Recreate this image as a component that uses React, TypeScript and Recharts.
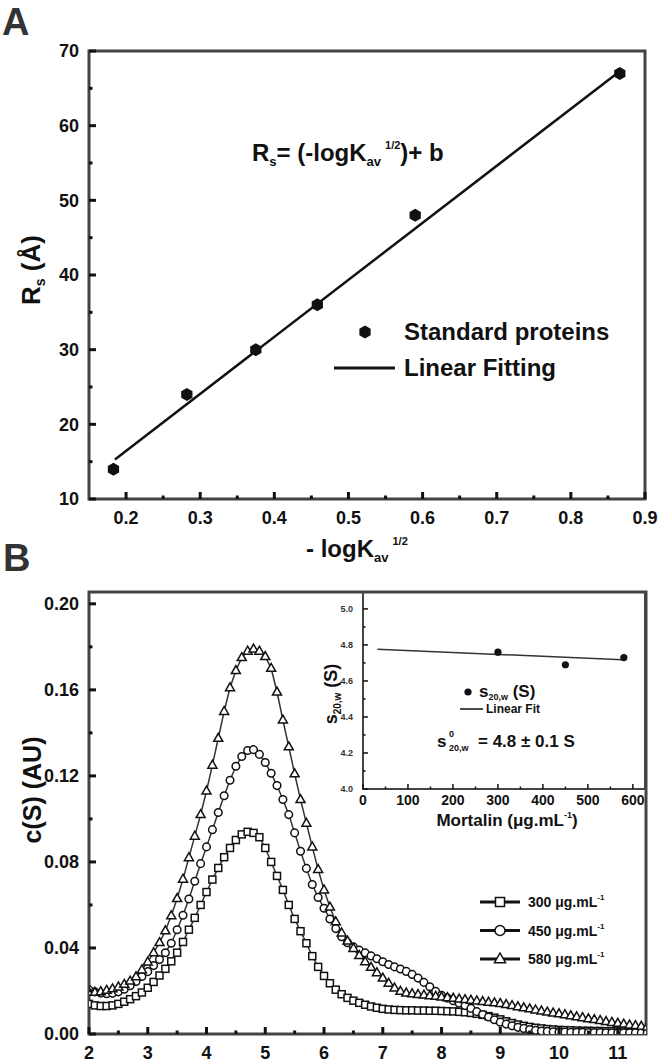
import React from 'react';
import { ComposedChart, Line, Scatter, XAxis, YAxis, ReferenceArea, Legend } from 'recharts';

// ---- Panel A: gel filtration calibration ----
const kavRoot = [0.183, 0.282, 0.375, 0.458, 0.59, 0.866];
const stokesRadius = [14, 24, 30, 36, 48, 67];
const fitKav = [0.185, 0.866];
const fitRadius = [15.3, 67.3];
const aTicksX = [0.2, 0.25, 0.3, 0.35, 0.4, 0.45, 0.5, 0.55, 0.6, 0.65, 0.7, 0.75, 0.8, 0.85, 0.9];
const aTicksY = [10, 15, 20, 25, 30, 35, 40, 45, 50, 55, 60, 65, 70];

// ---- Panel B: c(S) distributions ----
const sedCoef = [
  2.0, 2.1, 2.2, 2.3, 2.4, 2.5, 2.6, 2.7, 2.8, 2.9, 3.0, 3.1, 3.2, 3.3, 3.4, 3.5, 3.6, 3.7, 3.8, 3.9,
  4.0, 4.1, 4.2, 4.3, 4.4, 4.5, 4.6, 4.7, 4.8, 4.9, 5.0, 5.1, 5.2, 5.3, 5.4, 5.5, 5.6, 5.7, 5.8, 5.9,
  6.0, 6.1, 6.2, 6.3, 6.4, 6.5, 6.6, 6.7, 6.8, 6.9, 7.0, 7.1, 7.2, 7.3, 7.4, 7.5, 7.6, 7.7, 7.8, 7.9,
  8.0, 8.1, 8.2, 8.3, 8.4, 8.5, 8.6, 8.7, 8.8, 8.9, 9.0, 9.1, 9.2, 9.3, 9.4, 9.5, 9.6, 9.7, 9.8, 9.9,
  10.0, 10.1, 10.2, 10.3, 10.4, 10.5, 10.6, 10.7, 10.8, 10.9, 11.0, 11.1, 11.2, 11.3, 11.4, 11.5,
];
const c300 = [
  0.014, 0.0133, 0.013, 0.013, 0.0133, 0.014, 0.015, 0.0162, 0.0176, 0.0193, 0.0215, 0.0242, 0.0272, 0.0303, 0.0338, 0.0378, 0.0428, 0.0485, 0.054, 0.06,
  0.066, 0.0718, 0.0772, 0.0822, 0.0865, 0.0902, 0.0928, 0.094, 0.0935, 0.0915, 0.0865, 0.08, 0.0735, 0.067, 0.06, 0.0535, 0.0478, 0.0422, 0.0362, 0.0312,
  0.027, 0.0236, 0.0206, 0.0185, 0.0168, 0.0155, 0.0145, 0.0136, 0.0128, 0.0122, 0.0117, 0.0114, 0.0112, 0.0111, 0.011, 0.011, 0.0109, 0.0109, 0.0108, 0.0108,
  0.0107, 0.0106, 0.0105, 0.0103, 0.0101, 0.0098, 0.0094, 0.0089, 0.0083, 0.0076, 0.0068, 0.0059, 0.0051, 0.0044, 0.0038, 0.0033, 0.0029, 0.0026, 0.0023, 0.0021,
  0.0019, 0.0018, 0.0017, 0.0016, 0.0015, 0.0015, 0.0014, 0.0014, 0.0013, 0.0013, 0.0012, 0.0012, 0.0011, 0.0011, 0.001, 0.001,
];
const c450 = [
  0.0205, 0.0196, 0.019, 0.0187, 0.0189, 0.0196, 0.0208, 0.0224, 0.0244, 0.0267, 0.029, 0.0318, 0.0346, 0.0378, 0.0422, 0.0485, 0.0552, 0.0628, 0.071, 0.0792,
  0.087, 0.095, 0.103, 0.1108, 0.118, 0.1245, 0.129, 0.1318, 0.1322, 0.13, 0.1262, 0.1212, 0.1155, 0.109, 0.102, 0.0935, 0.085, 0.077, 0.0695, 0.0635,
  0.0585, 0.0535, 0.049, 0.0452, 0.0424, 0.0405, 0.039, 0.0377, 0.0363, 0.035, 0.0336, 0.0323, 0.0312, 0.0302, 0.0291, 0.0277, 0.026, 0.024, 0.022, 0.0198,
  0.018, 0.0167, 0.0155, 0.0143, 0.0132, 0.0119, 0.0104, 0.0091, 0.0079, 0.0066, 0.0055, 0.0046, 0.0038, 0.0031, 0.0026, 0.0021, 0.0017, 0.0014, 0.0012, 0.001,
  0.0009, 0.0009, 0.0008, 0.0008, 0.0008, 0.0007, 0.0007, 0.0007, 0.0006, 0.0006, 0.0006, 0.0006, 0.0005, 0.0005, 0.0005, 0.0005,
];
const c580 = [
  0.0195, 0.0194, 0.0197, 0.0203, 0.021, 0.0219, 0.0231, 0.0246, 0.0266, 0.0298, 0.0335, 0.0378, 0.0425, 0.048, 0.055, 0.063, 0.072, 0.082, 0.092, 0.102,
  0.113, 0.125, 0.1375, 0.15, 0.161, 0.169, 0.175, 0.178, 0.179, 0.178, 0.1755, 0.17, 0.159, 0.146, 0.1335, 0.121, 0.109, 0.098, 0.087, 0.0765,
  0.067, 0.059, 0.0522, 0.047, 0.0432, 0.0398, 0.0365, 0.0336, 0.031, 0.0285, 0.026, 0.0236, 0.0214, 0.0199, 0.0191, 0.0187, 0.0184, 0.0181, 0.0178, 0.0175,
  0.0172, 0.0169, 0.0166, 0.0163, 0.016, 0.0157, 0.0154, 0.0151, 0.0148, 0.0145, 0.0142, 0.0137, 0.0132, 0.0127, 0.0122, 0.0117, 0.0112, 0.0107, 0.0102, 0.0098,
  0.0094, 0.009, 0.0085, 0.008, 0.0076, 0.0071, 0.0067, 0.0063, 0.0058, 0.0054, 0.005, 0.0046, 0.0042, 0.0039, 0.0036, 0.0033,
];
const bTicksX = [2, 2.5, 3, 3.5, 4, 4.5, 5, 5.5, 6, 6.5, 7, 7.5, 8, 8.5, 9, 9.5, 10, 10.5, 11];
const bTicksY = [0, 0.02, 0.04, 0.06, 0.08, 0.1, 0.12, 0.14, 0.16, 0.18, 0.2];
const concLabels = ['300', '450', '580'];

// ---- Inset: s20,w vs concentration ----
const mortalin = [300, 450, 580];
const s20w = [4.76, 4.69, 4.73];
const insetFitX = [32, 577];
const insetFitY = [4.776, 4.718];
const insetTicksX = [0, 50, 100, 150, 200, 250, 300, 350, 400, 450, 500, 550, 600];
const insetTicksY = [4.0, 4.1, 4.2, 4.3, 4.4, 4.5, 4.6, 4.7, 4.8, 4.9, 5.0];

const FONT = '"Liberation Sans", Arial, Helvetica, sans-serif';
const INK = '#111';
const FRAME = '#444';

type TickCfg = {
  side: 'x' | 'y';
  major: (v: number) => boolean;
  label: (v: number) => string;
  size: number;
  gap: number;
  long: number;
  short: number;
  lineWidth?: number;
  fill?: string;
};

// inward tick marks + labels, placed by the axis scale
const makeTick = (c: TickCfg) => (props: any) => {
  const { x, y, payload } = props;
  const v = payload.value as number;
  const big = c.major(v);
  const len = big ? c.long : c.short;
  const sw = c.lineWidth ?? 3;
  const txt = {
    fontSize: c.size,
    fontWeight: 700,
    fontFamily: FONT,
    fill: c.fill ?? INK,
  };
  if (c.side === 'x') {
    return (
      <g>
        <line x1={x} x2={x} y1={y} y2={y - len} stroke={INK} strokeWidth={sw} />
        {big && (
          <text x={x} y={y + c.gap} textAnchor="middle" {...txt}>
            {c.label(v)}
          </text>
        )}
      </g>
    );
  }
  return (
    <g>
      <line x1={x} x2={x + len} y1={y} y2={y} stroke={INK} strokeWidth={sw} />
      {big && (
        <text x={x - c.gap} y={y} dy="0.35em" textAnchor="end" {...txt}>
          {c.label(v)}
        </text>
      )}
    </g>
  );
};

const near = (v: number, step: number) => Math.abs(v / step - Math.round(v / step)) < 1e-6;

const tickAX = makeTick({ side: 'x', major: (v) => near(v, 0.1), label: (v) => v.toFixed(1), size: 18, gap: 25, long: 7, short: 3.5 });
const tickAY = makeTick({ side: 'y', major: (v) => near(v, 10), label: (v) => String(v), size: 18, gap: 10, long: 7, short: 3.5 });
const tickBX = makeTick({ side: 'x', major: (v) => near(v, 1), label: (v) => String(v), size: 18, gap: 25, long: 7, short: 3.5 });
const tickBY = makeTick({ side: 'y', major: (v) => near(v, 0.04), label: (v) => v.toFixed(2), size: 18, gap: 10, long: 7, short: 3.5 });
const tickInX = makeTick({ side: 'x', major: (v) => near(v, 100), label: (v) => String(v), size: 14, gap: 16, long: 5, short: 2.5, lineWidth: 1.5 });
const tickInY = makeTick({ side: 'y', major: (v) => near(v, 0.2), label: (v) => v.toFixed(1), size: 9, gap: 10, long: 5, short: 2.5, lineWidth: 1.5, fill: '#333' });

const hexPoints = (cx: number, cy: number, r: number) =>
  [0, 1, 2, 3, 4, 5]
    .map((k) => {
      const a = ((-90 + 60 * k) * Math.PI) / 180;
      return `${cx + r * Math.cos(a)},${cy + r * Math.sin(a)}`;
    })
    .join(' ');

const HexShape = (p: any) => <polygon points={hexPoints(p.cx, p.cy, 6.5)} fill={INK} />;
const InsetDot = (p: any) => <circle cx={p.cx} cy={p.cy} r={3.6} fill={INK} />;

const drawSquare = (cx: number, cy: number, s: number, key?: string) => (
  <rect key={key} x={cx - s / 2} y={cy - s / 2} width={s} height={s} fill="#fff" stroke={INK} strokeWidth={1.5} />
);
const drawCircle = (cx: number, cy: number, r: number, key?: string) => (
  <circle key={key} cx={cx} cy={cy} r={r} fill="#fff" stroke={INK} strokeWidth={1.5} />
);
const drawTriangle = (cx: number, cy: number, w: number, key?: string) => {
  const h = w * 0.88;
  return (
    <polygon
      key={key}
      points={`${cx},${cy - h * 0.62} ${cx + w / 2},${cy + h * 0.38} ${cx - w / 2},${cy + h * 0.38}`}
      fill="#fff"
      stroke={INK}
      strokeWidth={1.5}
    />
  );
};

const squareDot = (p: any) => drawSquare(p.cx, p.cy, 7, `sq${p.index}`);
const circleDot = (p: any) => drawCircle(p.cx, p.cy, 3.8, `ci${p.index}`);
const triangleDot = (p: any) => drawTriangle(p.cx, p.cy, 9, `tr${p.index}`);

const labelText = { fontFamily: FONT, fontWeight: 700, fill: INK } as const;

const LegendA = () => (
  <svg width={660} height={560} style={{ display: 'block', overflow: 'visible' }}>
    <polygon points={hexPoints(365, 332, 6.5)} fill={INK} />
    <text x={404} y={340} fontSize={24} {...labelText}>Standard proteins</text>
    <line x1={334} x2={395} y1={368} y2={368} stroke={INK} strokeWidth={3} />
    <text x={404} y={376} fontSize={24} {...labelText}>Linear Fitting</text>
  </svg>
);

const legendMarks = [drawSquare, drawCircle, drawTriangle];
const legendSizes = [9, 5, 11];
const LegendB = () => (
  <svg width={660} height={522} style={{ display: 'block', overflow: 'visible' }}>
    {concLabels.map((c, i) => {
      const y = 362 + i * 28.5;
      return (
        <g key={c}>
          <line x1={480} x2={520} y1={y} y2={y} stroke={INK} strokeWidth={3} />
          {legendMarks[i](500, y, legendSizes[i])}
          <text x={528} y={y + 5} fontSize={14} {...labelText}>
            {c} μg.mL<tspan fontSize={8} dy={-7}>-1</tspan>
          </text>
        </g>
      );
    })}
  </svg>
);

const LegendInset = () => (
  <svg width={660} height={522} style={{ display: 'block', overflow: 'visible' }}>
    <circle cx={468} cy={152} r={3.6} fill={INK} />
    <text x={479} y={157} fontSize={17} {...labelText}>
      s<tspan fontSize={9} dy={3}>20,w</tspan>
      <tspan dy={-3}> (S)</tspan>
    </text>
    <line x1={460} x2={483} y1={169} y2={169} stroke={INK} strokeWidth={1.5} />
    <text x={486} y={173} fontSize={12} {...labelText}>Linear Fit</text>
  </svg>
);

const noOffsetLegend = { layout: 'vertical', verticalAlign: 'middle', align: 'center' } as const;

export default function App() {
  const pointsA = kavRoot.map((x, i) => ({ x, y: stokesRadius[i] }));
  const fitA = fitKav.map((x, i) => ({ x, y: fitRadius[i] }));
  const rowsB = sedCoef.map((s, i) => ({ s, c300: c300[i], c450: c450[i], c580: c580[i] }));
  const pointsIn = mortalin.map((x, i) => ({ x, y: s20w[i] }));
  const fitIn = insetFitX.map((x, i) => ({ x, y: insetFitY[i] }));

  return (
    <div style={{ position: 'absolute', left: 0, top: 0, width: 660, height: 1062, background: '#fff', overflow: 'hidden', fontFamily: FONT }}>
      {/* Panel A */}
      <div style={{ position: 'absolute', left: 0, top: 0 }}>
        <ComposedChart width={660} height={560} margin={{ top: 51, right: 15, bottom: 60, left: 88 }}>
          <XAxis type="number" dataKey="x" domain={[0.15, 0.9]} allowDataOverflow ticks={aTicksX} interval={0}
            axisLine={false} tickLine={false} tickSize={0} tickMargin={0} height={1} tick={tickAX} />
          <YAxis type="number" dataKey="y" domain={[10, 70]} allowDataOverflow ticks={aTicksY} interval={0}
            axisLine={false} tickLine={false} tickSize={0} tickMargin={0} width={1} tick={tickAY} />
          <ReferenceArea x1={0.15} x2={0.9} y1={10} y2={70} fill="none" fillOpacity={0} stroke={FRAME} strokeWidth={3} ifOverflow="visible" />
          <Line data={fitA} dataKey="y" type="linear" stroke={INK} strokeWidth={2.5} dot={false} isAnimationActive={false} name="Linear Fitting" />
          <Scatter data={pointsA} dataKey="y" shape={HexShape} isAnimationActive={false} name="Standard proteins" />
          <Legend {...noOffsetLegend} content={LegendA} wrapperStyle={{ left: 0, top: 0, width: 660, height: 560, pointerEvents: 'none' }} />
        </ComposedChart>
      </div>

      {/* Panel B main */}
      <div style={{ position: 'absolute', left: 0, top: 540 }}>
        <ComposedChart width={660} height={522} data={rowsB} margin={{ top: 52, right: 14, bottom: 27, left: 88 }}>
          <XAxis type="number" dataKey="s" domain={[2, 11.48]} allowDataOverflow ticks={bTicksX} interval={0}
            axisLine={false} tickLine={false} tickSize={0} tickMargin={0} height={1} tick={tickBX} />
          <YAxis type="number" domain={[0, 0.2055]} allowDataOverflow ticks={bTicksY} interval={0}
            axisLine={false} tickLine={false} tickSize={0} tickMargin={0} width={1} tick={tickBY} />
          <ReferenceArea x1={2} x2={11.48} y1={0} y2={0.2055} fill="none" fillOpacity={0} stroke={FRAME} strokeWidth={3} ifOverflow="visible" />
          <Line dataKey="c300" type="linear" stroke="#333" strokeWidth={1.5} dot={squareDot} isAnimationActive={false} />
          <Line dataKey="c450" type="linear" stroke="#333" strokeWidth={1.5} dot={circleDot} isAnimationActive={false} />
          <Line dataKey="c580" type="linear" stroke="#333" strokeWidth={1.5} dot={triangleDot} isAnimationActive={false} />
          <Legend {...noOffsetLegend} content={LegendB} wrapperStyle={{ left: 0, top: 0, width: 660, height: 522, pointerEvents: 'none' }} />
        </ComposedChart>
      </div>

      {/* Panel B inset */}
      <div style={{ position: 'absolute', left: 0, top: 540 }}>
        <ComposedChart width={660} height={522} margin={{ top: 52, right: 15, bottom: 272, left: 362 }}>
          <XAxis type="number" dataKey="x" domain={[0, 627]} allowDataOverflow ticks={insetTicksX} interval={0}
            axisLine={false} tickLine={false} tickSize={0} tickMargin={0} height={1} tick={tickInX} />
          <YAxis type="number" dataKey="y" domain={[4.0, 5.094]} allowDataOverflow ticks={insetTicksY} interval={0}
            axisLine={false} tickLine={false} tickSize={0} tickMargin={0} width={1} tick={tickInY} />
          <ReferenceArea x1={0} x2={627} y1={4.0} y2={5.094} fill="none" fillOpacity={0} stroke={FRAME} strokeWidth={2} ifOverflow="visible" />
          <Line data={fitIn} dataKey="y" type="linear" stroke="#333" strokeWidth={1.5} dot={false} isAnimationActive={false} name="Linear Fit" />
          <Scatter data={pointsIn} dataKey="y" shape={InsetDot} isAnimationActive={false} name="s20,w (S)" />
          <Legend {...noOffsetLegend} content={LegendInset} wrapperStyle={{ left: 0, top: 0, width: 660, height: 522, pointerEvents: 'none' }} />
        </ComposedChart>
      </div>

      {/* titles and annotations */}
      <svg width={660} height={1062} style={{ position: 'absolute', left: 0, top: 0, pointerEvents: 'none' }}>
        <text x={2} y={35} fontSize={38} fontFamily={FONT} fontWeight={700} fill="#333">A</text>
        <text x={3} y={571} fontSize={38} fontFamily={FONT} fontWeight={700} fill="#333">B</text>

        <text x={252} y={161} fontSize={24} {...labelText}>
          R<tspan fontSize={13} dy={5}>s</tspan>
          <tspan dy={-5}>= (-logK</tspan>
          <tspan fontSize={13} dy={5}>av</tspan>
          <tspan fontSize={11} dy={-17} dx={4}>1/2</tspan>
          <tspan dy={12}>)+ b</tspan>
        </text>

        <text x={306} y={557} fontSize={24} {...labelText}>
          - logK<tspan fontSize={13} dy={5}>av</tspan>
          <tspan fontSize={11} dy={-17} dx={4}>1/2</tspan>
        </text>

        <text transform="translate(40,270) rotate(-90)" textAnchor="middle" fontSize={26} {...labelText}>
          R<tspan fontSize={14} dy={5}>s</tspan>
          <tspan dy={-5}> (Å)</tspan>
        </text>

        <text transform="translate(41,790) rotate(-90)" textAnchor="middle" fontSize={25} {...labelText}>c(S) (AU)</text>

        <text transform="translate(337,694) rotate(-90)" textAnchor="middle" fontSize={18} {...labelText}>
          s<tspan fontSize={10} dy={4}>20,w</tspan>
          <tspan dy={-4}> (S)</tspan>
        </text>

        <text x={507} y={826} textAnchor="middle" fontSize={17} {...labelText}>
          Mortalin (μg.mL<tspan fontSize={9} dy={-8}>-1</tspan>
          <tspan dy={8}>)</tspan>
        </text>

        <text x={437} y={747} fontSize={17} {...labelText}>s</text>
        <text x={449} y={737} fontSize={9} {...labelText}>0</text>
        <text x={449} y={751} fontSize={9} {...labelText}>20,w</text>
        <text x={478} y={747} fontSize={17} {...labelText}>= 4.8 ± 0.1 S</text>
      </svg>
    </div>
  );
}
